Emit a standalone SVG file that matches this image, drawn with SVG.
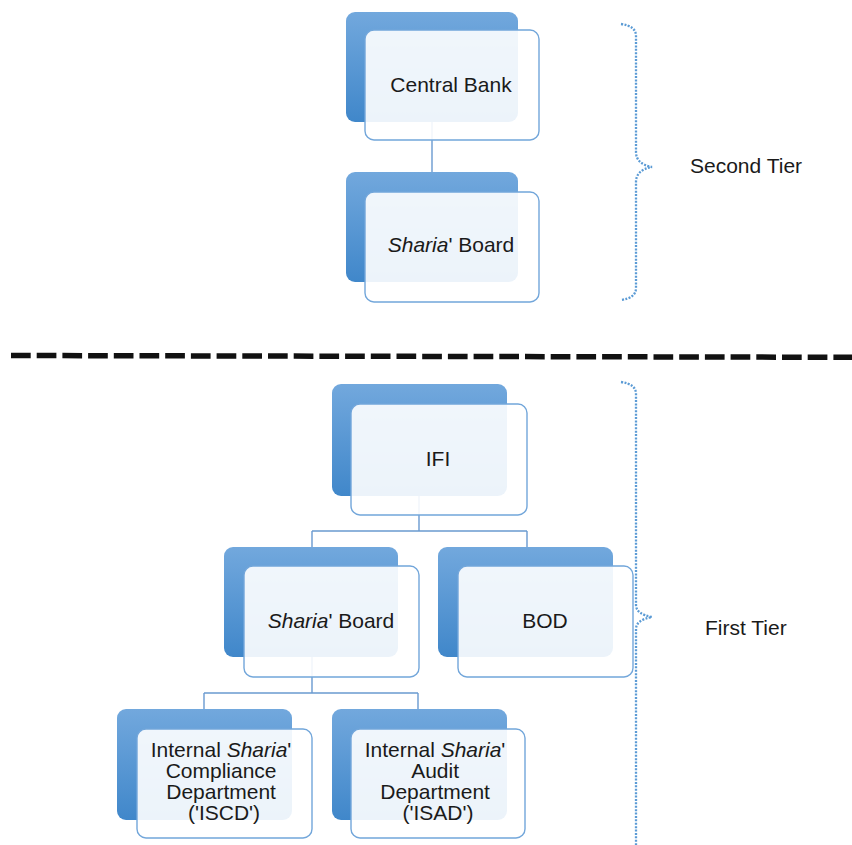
<svg xmlns="http://www.w3.org/2000/svg" width="852" height="845" viewBox="0 0 852 845">
  <defs>
    <linearGradient id="backFill" x1="0" y1="0" x2="0" y2="1">
      <stop offset="0" stop-color="#72a8dd"/>
      <stop offset="1" stop-color="#4087ca"/>
    </linearGradient>
    <style>
      .back { fill: url(#backFill); }
      .front { fill: #ffffff; fill-opacity: 0.9; stroke: #72a6da; stroke-width: 1.4; }
      .link { fill: none; stroke: #6a9ad0; stroke-width: 1.4; }
      .brace { fill: none; stroke: #5b9bd5; stroke-width: 2.3; stroke-dasharray: 2 1.4; }
      .divider { fill: none; stroke: #111111; stroke-width: 5.5; stroke-dasharray: 19.7 6; }
      text { font-family: "Liberation Sans", Arial, sans-serif; font-size: 21px; fill: #1a1a1a; }
      .c { text-anchor: middle; }
    </style>
  </defs>

  <rect width="852" height="845" fill="#ffffff"/>

  <!-- connectors -->
  <g id="connectors">
    <path class="link" d="M432 122 V172"/>
    <path class="link" d="M419 496 V531 M312 531 H527 M312 531 V547 M527 531 V547"/>
    <path class="link" d="M312 657 V693 M204 693 H418 M204 693 V709 M418 693 V709"/>
  </g>

  <!-- second tier -->
  <g id="central-bank">
    <rect class="back" x="346" y="12" width="172" height="110" rx="9"/>
    <rect class="front" x="365" y="30" width="174" height="110" rx="9"/>
    <text class="c" x="451" y="92">Central Bank</text>
  </g>
  <g id="sharia-board-top">
    <rect class="back" x="346" y="172" width="172" height="110" rx="9"/>
    <rect class="front" x="365" y="192" width="174" height="110" rx="9"/>
    <text class="c" x="451" y="252"><tspan font-style="italic">Sharia</tspan>' Board</text>
  </g>

  <!-- first tier -->
  <g id="ifi">
    <rect class="back" x="332" y="384" width="175" height="112" rx="9"/>
    <rect class="front" x="351" y="404" width="176" height="111" rx="9"/>
    <text class="c" x="438" y="466">IFI</text>
  </g>
  <g id="sharia-board">
    <rect class="back" x="224" y="547" width="174" height="110" rx="9"/>
    <rect class="front" x="244" y="566" width="175" height="111" rx="9"/>
    <text class="c" x="331" y="628"><tspan font-style="italic">Sharia</tspan>' Board</text>
  </g>
  <g id="bod">
    <rect class="back" x="438" y="547" width="175" height="110" rx="9"/>
    <rect class="front" x="458" y="566" width="175" height="111" rx="9"/>
    <text class="c" x="545" y="628">BOD</text>
  </g>
  <g id="iscd">
    <rect class="back" x="117" y="709" width="175" height="111" rx="9"/>
    <rect class="front" x="137" y="729" width="175" height="109" rx="9"/>
    <text class="c" x="224">
      <tspan x="224" y="757">Internal <tspan font-style="italic">Sharia</tspan>'</tspan>
      <tspan x="224" y="778">Compliance</tspan>
      <tspan x="224" y="799">Department</tspan>
      <tspan x="224" y="820">('ISCD')</tspan>
    </text>
  </g>
  <g id="isad">
    <rect class="back" x="332" y="709" width="175" height="111" rx="9"/>
    <rect class="front" x="351" y="729" width="174" height="109" rx="9"/>
    <text class="c" x="438">
      <tspan x="438" y="757">Internal <tspan font-style="italic">Sharia</tspan>'</tspan>
      <tspan x="438" y="778">Audit</tspan>
      <tspan x="438" y="799">Department</tspan>
      <tspan x="438" y="820">('ISAD')</tspan>
    </text>
  </g>

  <!-- tier braces and labels -->
  <g id="second-tier-brace">
    <path class="brace" d="M621 24 Q636 26 636 36 V152 Q636 164 652 167 Q636 170 636 182 V288 Q636 298 621 300"/>
    <text x="690" y="173">Second Tier</text>
  </g>
  <g id="first-tier-brace">
    <path class="brace" d="M621 382 Q636 384 636 394 V605 Q636 614 652 617 Q636 620 636 629 V845"/>
    <text x="705" y="635">First Tier</text>
  </g>

  <!-- tier divider -->
  <path class="divider" d="M11 355.5 L852 357.3"/>
</svg>
